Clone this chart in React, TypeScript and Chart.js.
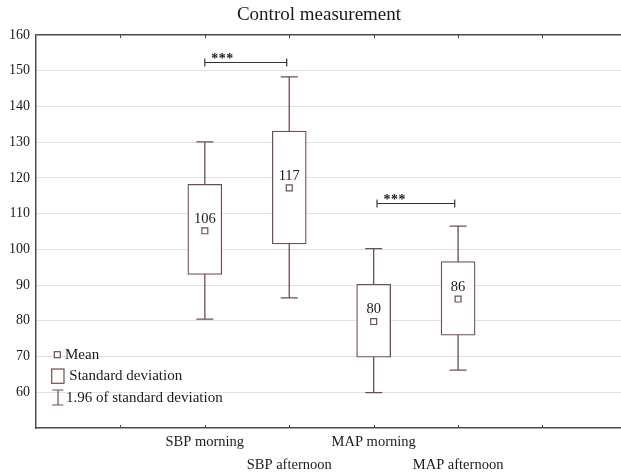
import React, { useEffect, useRef } from 'react';
import { Chart, registerables } from 'chart.js';

Chart.register(...registerables);

// ---- data ----
const categories = ['SBP morning', 'SBP afternoon', 'MAP morning', 'MAP afternoon'];
const categoryX = [2, 3, 4, 5];
const means = [105.2, 117.2, 79.8, 86.1];
const meanLabels = ['106', '117', '80', '86'];
const sdLow = [93.0, 101.5, 69.8, 76.0];
const sdHigh = [118.2, 133.1, 90.2, 96.6];
const ciLow = [80.5, 86.4, 59.9, 66.2];
const ciHigh = [130.1, 148.3, 100.2, 106.5];
const yTickValues = [60, 70, 80, 90, 100, 110, 120, 130, 140, 150, 160];
const xTickValues = [1, 2, 3, 4, 5, 6];
const bracketStart = [2.0, 4.04];
const bracketEnd = [2.97, 4.96];
const bracketY = [152.4, 113.1];
const bracketStars = [3, 3];
const legendLabels = ['Mean', 'Standard deviation', '1.96 of standard deviation'];
const titleText = 'Control measurement';

const BOX = '#6e4e4e';
const AXIS = '#4a4a4a';
const GRID = '#e2e2e2';
const TEXT = '#1a1a1a';
const SERIF = '"Liberation Serif", "Times New Roman", serif';

const overlay = {
  id: 'overlay',
  beforeDatasetsDraw(chart: any) {
    const { ctx, scales } = chart;
    const x = scales.x;
    const y = scales.y;
    ctx.save();
    ctx.strokeStyle = BOX;
    ctx.lineWidth = 1.3;
    const CAP = 8.5;
    categoryX.forEach((cx, i) => {
      const px = x.getPixelForValue(cx);
      const top = y.getPixelForValue(ciHigh[i]);
      const bot = y.getPixelForValue(ciLow[i]);
      ctx.beginPath();
      ctx.moveTo(px, top);
      ctx.lineTo(px, bot);
      ctx.moveTo(px - CAP, top);
      ctx.lineTo(px + CAP, top);
      ctx.moveTo(px - CAP, bot);
      ctx.lineTo(px + CAP, bot);
      ctx.stroke();
    });
    ctx.restore();
  },
  afterDatasetsDraw(chart: any) {
    const { ctx, scales, chartArea } = chart;
    const x = scales.x;
    const y = scales.y;
    ctx.save();
    // mean labels
    ctx.fillStyle = TEXT;
    ctx.font = `14.5px ${SERIF}`;
    ctx.textAlign = 'center';
    ctx.textBaseline = 'middle';
    categoryX.forEach((cx, i) => {
      ctx.fillText(meanLabels[i], x.getPixelForValue(cx), y.getPixelForValue(means[i]) - 12);
    });
    // significance brackets
    ctx.strokeStyle = '#333';
    ctx.lineWidth = 1.2;
    bracketY.forEach((by, i) => {
      const x1 = x.getPixelForValue(bracketStart[i]);
      const x2 = x.getPixelForValue(bracketEnd[i]);
      const py = Math.round(y.getPixelForValue(by)) + 0.5;
      ctx.beginPath();
      ctx.moveTo(x1, py);
      ctx.lineTo(x2, py);
      ctx.moveTo(x1, py - 4);
      ctx.lineTo(x1, py + 4);
      ctx.moveTo(x2, py - 4);
      ctx.lineTo(x2, py + 4);
      ctx.stroke();
      ctx.fillStyle = '#222';
      ctx.font = `bold 14px ${SERIF}`;
      ctx.textAlign = 'center';
      ctx.textBaseline = 'alphabetic';
      for (let k = 0; k < bracketStars[i]; k++) {
        ctx.fillText('*', x1 + 10 + k * 7.5, py + 0.5);
      }
    });
    // inner tick marks on top border and bottom axis
    ctx.strokeStyle = AXIS;
    ctx.lineWidth = 1;
    xTickValues.forEach((v) => {
      const px = Math.round(x.getPixelForValue(v)) + 0.5;
      ctx.beginPath();
      ctx.moveTo(px, chartArea.top);
      ctx.lineTo(px, chartArea.top + 3);
      ctx.moveTo(px, chartArea.bottom);
      ctx.lineTo(px, chartArea.bottom - 3);
      ctx.stroke();
    });
    // legend
    const L = chartArea.left;
    ctx.strokeStyle = BOX;
    ctx.fillStyle = '#fff';
    ctx.lineWidth = 1.2;
    ctx.fillRect(L + 18.3, 351.7, 6, 6);
    ctx.strokeRect(L + 18.3, 351.7, 6, 6);
    ctx.strokeRect(L + 15.7, 369, 12.3, 14.3);
    ctx.beginPath();
    ctx.moveTo(L + 22, 390);
    ctx.lineTo(L + 22, 405);
    ctx.moveTo(L + 16.3, 390);
    ctx.lineTo(L + 27.3, 390);
    ctx.moveTo(L + 16.3, 405);
    ctx.lineTo(L + 27.3, 405);
    ctx.stroke();
    ctx.fillStyle = TEXT;
    ctx.font = `15px ${SERIF}`;
    ctx.textAlign = 'left';
    ctx.textBaseline = 'middle';
    ctx.fillText(legendLabels[0], L + 29, 355);
    ctx.fillText(legendLabels[1], L + 33.3, 376);
    ctx.fillText(legendLabels[2], L + 30, 398);
    ctx.restore();
  },
  afterDraw(chart: any) {
    const { ctx } = chart;
    ctx.save();
    ctx.fillStyle = TEXT;
    ctx.font = `19px ${SERIF}`;
    ctx.textAlign = 'center';
    ctx.textBaseline = 'middle';
    ctx.fillText(titleText, 319, 15);
    ctx.restore();
  },
};

export default function App() {
  const ref = useRef<HTMLCanvasElement | null>(null);
  useEffect(() => {
    if (!ref.current) return;
    const chart = new Chart(ref.current, {
      type: 'bar',
      data: {
        datasets: [
          {
            type: 'scatter',
            label: 'Mean',
            data: categoryX.map((cx, i) => ({ x: cx, y: means[i] })),
            pointStyle: 'rect',
            pointRadius: 4.2,
            backgroundColor: '#ffffff',
            borderColor: BOX,
            borderWidth: 1.2,
            order: 1,
          } as any,
          {
            type: 'bar',
            label: 'Standard deviation',
            data: categoryX.map((cx, i) => ({ x: cx, y: [sdLow[i], sdHigh[i]] })),
            backgroundColor: '#ffffff',
            borderColor: BOX,
            borderWidth: 1.3,
            borderSkipped: false,
            barThickness: 34,
            order: 2,
          } as any,
        ],
      },
      options: {
        animation: false,
        responsive: false,
        devicePixelRatio: 1,
        layout: { autoPadding: false, padding: { top: 35, left: 0, right: 0, bottom: 0 } },
        plugins: {
          legend: { display: false },
          tooltip: { enabled: false },
          title: { display: false },
        },
        scales: {
          x: {
            type: 'linear',
            offset: false,
            min: 0,
            max: 6.93,
            afterBuildTicks: (scale: any) => {
              scale.ticks = xTickValues.map((v) => ({ value: v }));
            },
            afterFit: (scale: any) => {
              scale.height = 44;
            },
            grid: { display: true, offset: false, drawOnChartArea: false, drawTicks: false },
            border: { display: true, color: AXIS, width: 1.5 },
            ticks: {
              autoSkip: false,
              maxRotation: 0,
              padding: 3,
              color: TEXT,
              font: { family: SERIF, size: 14.5, lineHeight: 1.55 },
              callback: (v: any) => {
                const idx = categoryX.indexOf(Number(v));
                if (idx < 0) return '';
                return idx % 2 === 1 ? ['', categories[idx]] : categories[idx];
              },
            },
          },
          y: {
            type: 'linear',
            min: 50,
            max: 160,
            afterBuildTicks: (scale: any) => {
              scale.ticks = [50, ...yTickValues].map((v) => ({ value: v }));
            },
            afterFit: (scale: any) => {
              scale.width = 36;
            },
            grid: {
              drawTicks: false,
              color: (c: any) => (c.tick && c.tick.value === 160 ? AXIS : c.tick && c.tick.value === 50 ? 'rgba(0,0,0,0)' : GRID),
              lineWidth: (c: any) => (c.tick && c.tick.value === 160 ? 1.5 : 1),
            },
            border: { display: true, color: AXIS, width: 1.5 },
            ticks: {
              padding: 6,
              color: TEXT,
              font: { family: SERIF, size: 14 },
              callback: (v: any) => (Number(v) === 50 ? '' : String(v)),
            },
          },
        },
      },
      plugins: [overlay],
    } as any);
    return () => chart.destroy();
  }, []);
  return (
    <div style={{ position: 'absolute', left: 0, top: 0, width: 621, height: 472, background: '#fff' }}>
      <canvas ref={ref} width={621} height={472} style={{ width: 621, height: 472, display: 'block' }} />
    </div>
  );
}
